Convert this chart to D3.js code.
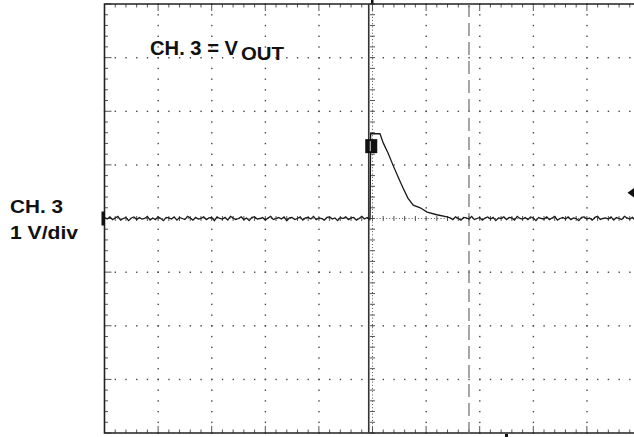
<!DOCTYPE html>
<html>
  <head>
    <meta charset="utf-8">
    <title>CH. 3 = VOUT</title>
    <script src="https://d3js.org/d3.v7.min.js"></script>
    <style>
      body { margin: 0; background: #fff; }
      text { font-family: "Liberation Sans", Arial, sans-serif; font-weight: bold; fill: #111; }
    </style>
  </head>
  <body>
    <div id="chart"></div>
    <script>
    // scope screen: 10 x 8 divisions, 1 V/div, trace on CH. 3
    var baseline1 = [0.02,-0.01,0.03,-0.02,0.01,0.04,-0.03,0.00,0.02,-0.04,
      0.01,0.03,-0.02,0.02,-0.01,0.00,0.04,-0.03,0.01,-0.02,
      0.03,0.00,-0.04,0.02,0.01,-0.01,0.03,-0.03,0.02,0.00,
      -0.02,0.04,0.01,-0.03,0.02,-0.01,0.00,0.03,-0.02,0.01,
      0.02,-0.04,0.03,0.00,-0.01,0.02,-0.03,0.04,0.01,-0.02,
      0.00,0.03,-0.02,0.01,-0.04,0.02,0.03,-0.01,0.00,0.02,
      -0.03,0.01,0.04,-0.02,0.00,0.02,-0.01,0.03,-0.04,0.01,
      0.02,-0.02,0.00,0.03,-0.03,0.01,0.02,-0.01,0.04,-0.02,
      0.01,0.00,-0.03,0.02,0.03,-0.01,0.01,-0.04,0.02,0.00,
      0.03,-0.02,0.01,0.02,-0.03,0.00,0.04,-0.01,0.02,-0.02];
    var pulseT = [4.955,4.965,5.05,5.14,5.20,5.29,5.38,5.48,5.57,5.66,5.76,5.89,6.02,6.20,6.39];
    var pulseV = [0.00,1.58,1.58,1.58,1.41,1.22,1.00,0.77,0.57,0.38,0.25,0.20,0.12,0.07,0.03];
    var baseline2 = [0.01,-0.02,0.03,0.00,-0.03,0.02,0.01,-0.01,0.04,-0.02,
      0.00,0.02,-0.03,0.01,0.03,-0.01,0.02,-0.04,0.01,0.00,
      0.03,-0.02,0.02,0.01,-0.03,0.04,0.00,-0.01,0.02,-0.02,
      0.03,0.01,-0.04,0.02,0.00,-0.01,0.03,-0.02,0.01,0.04,
      -0.03,0.00,0.02,-0.01,0.03,-0.02,0.01,0.00,-0.04,0.02,
      0.03,-0.01,0.01,-0.03,0.02,0.04,-0.02,0.00,0.01,-0.01,
      0.03,-0.03,0.02,0.00,-0.02,0.04,0.01,-0.01,0.02,-0.03,
      0.01,0.00];
    var cursorT = 4.93;     // solid cursor
    var dashT = 6.80;       // dashed cursor
    var chLevel = 0;        // channel ground marker
    var trigLevel = 0.48;   // right-hand trigger level marker

    var width = 634, height = 437;
    var x = d3.scaleLinear().domain([0, 10]).range([104.5, 640.5]);
    var y = d3.scaleLinear().domain([-4, 4]).range([433, 4]);

    var svg = d3.select("#chart").append("svg")
      .attr("width", width).attr("height", height);

    var minorX = d3.range(0, 10.001, 0.2), minorY = d3.range(-4, 4.001, 0.2);
    var majorX = d3.range(1, 10), majorY = d3.range(-3, 4);

    // dotted graticule
    var grid = svg.append("g").attr("fill", "#444");
    majorX.filter(d => d != 5).forEach(function(mx) {
      grid.selectAll(null).data(minorY).enter().append("rect")
        .attr("x", x(mx) - 0.6).attr("y", d => y(d) - 0.6).attr("width", 1.4).attr("height", 1.4);
    });
    majorY.filter(d => d != 0).forEach(function(my) {
      grid.selectAll(null).data(minorX).enter().append("rect")
        .attr("x", d => x(d) - 0.6).attr("y", y(my) - 0.6).attr("width", 1.4).attr("height", 1.4);
    });

    // centre lines with small ticks
    var cen = svg.append("g").attr("stroke", "#555").attr("stroke-width", 1);
    cen.append("line").attr("x1", x(0)).attr("x2", x(10)).attr("y1", y(0)).attr("y2", y(0))
      .attr("stroke-dasharray", "1,2.2");
    cen.append("line").attr("y1", y(4)).attr("y2", y(-4)).attr("x1", x(5)).attr("x2", x(5))
      .attr("stroke-dasharray", "1,2.2");
    cen.selectAll(null).data(minorX).enter().append("line")
      .attr("x1", d => x(d)).attr("x2", d => x(d)).attr("y1", y(0) - 2.5).attr("y2", y(0) + 2.5);
    cen.selectAll(null).data(minorY).enter().append("line")
      .attr("y1", d => y(d)).attr("y2", d => y(d)).attr("x1", x(5) - 2.5).attr("x2", x(5) + 2.5);

    // border ticks
    var bt = svg.append("g").attr("stroke", "#555").attr("stroke-width", 1);
    bt.selectAll(null).data(minorX).enter().append("line")
      .attr("x1", d => x(d)).attr("x2", d => x(d))
      .attr("y1", y(-4)).attr("y2", d => y(-4) - (Math.abs(d - Math.round(d)) < 0.01 ? 7 : 3.5));
    bt.selectAll(null).data(minorX).enter().append("line")
      .attr("x1", d => x(d)).attr("x2", d => x(d))
      .attr("y1", y(4)).attr("y2", d => y(4) + (Math.abs(d - Math.round(d)) < 0.01 ? 7 : 3.5));
    bt.selectAll(null).data(minorY).enter().append("line")
      .attr("y1", d => y(d)).attr("y2", d => y(d))
      .attr("x1", x(0)).attr("x2", d => x(0) + (Math.abs(d - Math.round(d)) < 0.01 ? 7 : 3.5));

    // border
    svg.append("path")
      .attr("d", "M" + x(10) + "," + y(4) + "H" + x(0) + "V" + y(-4) + "H" + x(10))
      .attr("fill", "none").attr("stroke", "#222").attr("stroke-width", 1.6);

    // cursors
    svg.append("line").attr("x1", x(cursorT)).attr("x2", x(cursorT)).attr("y1", y(4)).attr("y2", y(-4))
      .attr("stroke", "#333").attr("stroke-width", 1.6);
    svg.append("line").attr("x1", x(dashT)).attr("x2", x(dashT)).attr("y1", y(4)).attr("y2", y(-4))
      .attr("stroke", "#777").attr("stroke-width", 1.3).attr("stroke-dasharray", "13,6");

    // trace
    var trace = [];
    baseline1.forEach((v, i) => trace.push([i * 0.05, v]));
    pulseT.forEach((t, i) => trace.push([t, pulseV[i]]));
    baseline2.forEach((v, i) => trace.push([6.45 + i * 0.05, v]));
    svg.append("path").datum(trace)
      .attr("d", d3.line().x(d => x(d[0])).y(d => y(d[1])))
      .attr("fill", "none").attr("stroke", "#1a1a1a").attr("stroke-width", 1.3);

    // markers
    svg.append("rect").attr("x", x(0) - 3).attr("y", y(chLevel) - 7).attr("width", 3.5).attr("height", 14).attr("fill", "#111");
    svg.append("path")
      .attr("d", "M" + (x(10) - 13) + "," + y(trigLevel) + "l9,-6.5v13z").attr("fill", "#111");
    svg.append("rect").attr("x", x(cursorT) - 3.5).attr("y", y(1.48)).attr("width", 12).attr("height", 14).attr("fill", "#111");
    svg.append("line").attr("x1", x(cursorT) + 1.5).attr("x2", x(cursorT) + 1.5)
      .attr("y1", y(1.48) + 2).attr("y2", y(1.48) + 12).attr("stroke", "#ddd").attr("stroke-width", 1);
    svg.append("rect").attr("x", x(5) - 1.5).attr("y", 0).attr("width", 2.5).attr("height", 3.5).attr("fill", "#111");
    svg.append("rect").attr("x", x(7.5) - 1.5).attr("y", 434).attr("width", 3).attr("height", 3).attr("fill", "#111");

    // labels
    svg.append("text").attr("x", 150).attr("y", 55).style("font-size", "21px")
      .attr("textLength", 88).attr("lengthAdjust", "spacingAndGlyphs").text("CH. 3 = V");
    svg.append("text").attr("x", 241).attr("y", 60).style("font-size", "19px")
      .attr("textLength", 43).attr("lengthAdjust", "spacingAndGlyphs").text("OUT");
    svg.append("text").attr("x", 10).attr("y", 213).style("font-size", "18px")
      .attr("textLength", 53).attr("lengthAdjust", "spacingAndGlyphs").text("CH. 3");
    svg.append("text").attr("x", 10).attr("y", 239).style("font-size", "18px")
      .attr("textLength", 68).attr("lengthAdjust", "spacingAndGlyphs").text("1 V/div");
    </script>
  </body>
</html>
